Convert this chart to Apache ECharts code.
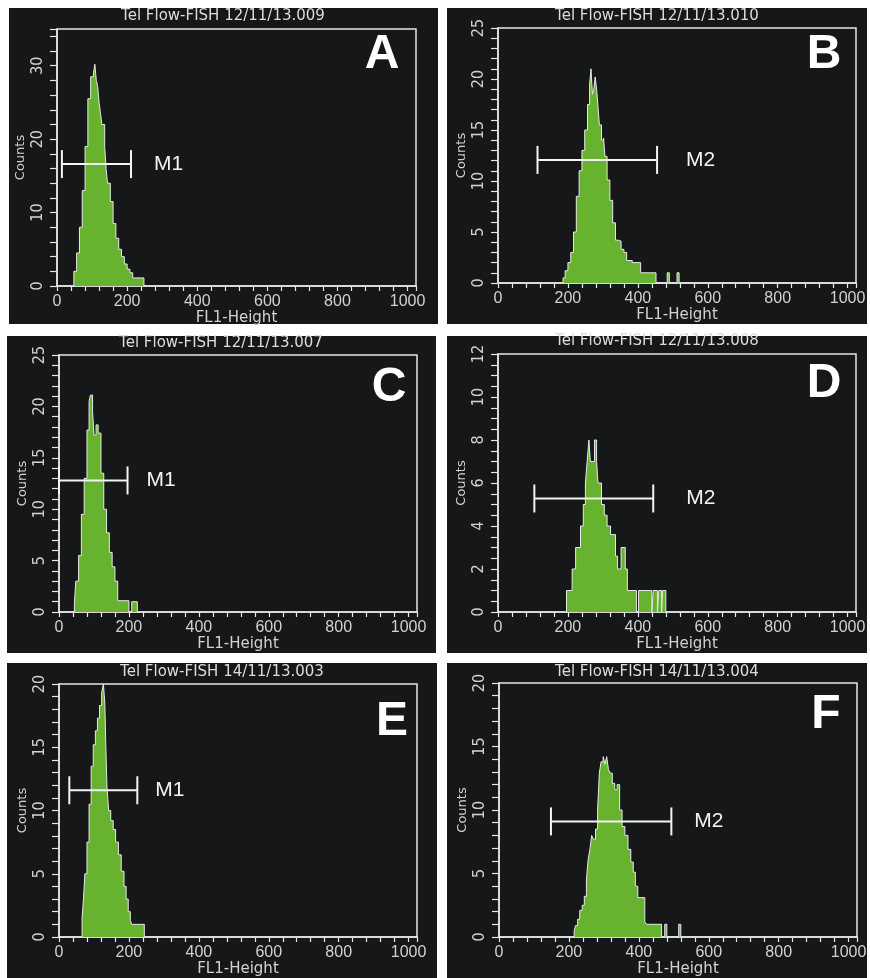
<!DOCTYPE html>
<html><head><meta charset="utf-8">
<script src="https://cdn.jsdelivr.net/npm/echarts@6/dist/echarts.min.js"></script>
<style>html,body{margin:0;padding:0;background:#fff}#c{width:870px;height:978px}</style>
</head><body><div id="c"></div>
<script>
// ---------------- DATA ----------------
const titles = ['Tel Flow-FISH 12/11/13.009','Tel Flow-FISH 12/11/13.010','Tel Flow-FISH 12/11/13.007','Tel Flow-FISH 12/11/13.008','Tel Flow-FISH 14/11/13.003','Tel Flow-FISH 14/11/13.004'];
const letters = ['A','B','C','D','E','F'];
const xName = 'FL1-Height';
const yName = 'Counts';

// histogram bin starts (FL1-Height) and counts
const binA = [48,56,64,72,80,88,96,104,108,112,116,120,124,128,136,140,144,152,160,168,176,184,192,200,208,216,248];
const cntA = [2,4.5,8,13,19,25.5,28.5,29,30.2,28,27.2,25,23.5,22,19,16,14,11.5,8.5,6.5,5,4,3,2.3,1.8,1.1,0];

const binB = [186,192,200,208,216,224,232,240,248,256,262,266,270,274,278,282,286,290,296,302,306,312,320,328,336,344,352,360,368,384,408,452,484,490,512,518];
const cntB = [0.5,1.2,2,3,5,8.5,11,13,15,17.5,19.5,21,18.5,19,20.2,19,17.3,15.5,14,14.2,12.4,10.1,8.1,5.9,4.2,4.1,3.3,3,2.2,2,1,0,1,0,1,0];

const binC = [44,48,56,64,72,80,86,90,96,100,106,112,120,128,136,144,152,160,168,200,208,224];
const cntC = [0.8,3,5.5,9.5,13,17.7,20.5,21.1,19.5,17.2,18.2,17.4,13.5,10,7.7,5.8,4.4,3,1.1,0,1,0];

const binD = [196,212,222,236,244,250,255,260,264,270,276,282,286,296,304,312,322,336,342,352,364,370,396,402,440,444,456,460,468,471,480];
const cntD = [1,2,3,4,5,6,7,8,7,7,8,7,6,5,4.5,4,3.6,2.6,2,3,2,1,0,1,0,1,0,1,0,1,0];

const binE = [66,70,74,80,86,92,98,104,110,116,122,127,131,134,137,142,148,155,162,170,178,186,192,198,204,208,244];
const cntE = [1.5,3,5,7.5,10.5,13.5,15.2,16.3,17.3,18.3,19.3,20,18.5,15,12,10,9.2,8.5,7.5,6.5,5.2,4,3,2,1.3,1,0];

const binF = [215,219,225,231,238,244,250,255,260,265,270,276,282,287,292,298,303,308,313,318,324,331,338,345,352,360,369,377,384,390,397,417,422,465,474,480,514,520];
const cntF = [0.5,0.9,1.4,2.1,2.5,3.2,4.5,6.1,6.9,8,7.7,8.5,10,12.9,13.8,14.2,13.6,14.2,13.2,12.9,12.1,11.6,12,10,8.7,8,6.9,5.9,5.1,4,3.1,1.2,1,0,1,0,1,0];

// region markers
const markerNames = ['M1','M2','M1','M2','M1','M2'];
const markerStart = [14,113,0,104,29.5,148.6];
const markerEnd   = [211,455,196,444,224,493];
const markerLevel = [16.6,12.07,12.8,5.28,11.6,9.1];

// axes
const yMax = [35,25,25,12,20,20];
const yTickStep = [2,1,1,0.5,1,1];
const yLabelStep = [10,5,5,2,5,5];
const xMax = 1024, xTickStep = 40, xLabelStep = 200;

// ---------------- LAYOUT / STYLE ----------------
const bins = [binA,binB,binC,binD,binE,binF];
const cnts = [cntA,cntB,cntC,cntD,cntE,cntF];
const panelRects = [[9,8,429,316],[447,8,420,316],[7,336,429,317],[447,336,420,317],[7,663,430,315],[447,663,420,315]];
const grids = [
  {left:57,top:29,width:359,height:257},
  {left:498,top:28,width:358,height:255},
  {left:59,top:355,width:358,height:257},
  {left:498,top:354,width:358,height:258},
  {left:59,top:684,width:358,height:256},
  {left:499,top:683,width:358,height:255}
];
const titlePos = [[223,16],[657,16],[221,343],[657,341],[222,672],[657,672]];
const letterPos = [[382,55],[824,55],[389,388],[824,384],[392,722],[826,715]];
const labelOffset = [23,29,19,33,18,23];

const FG = '#e6e6e6', LBL = '#d2d2d2', BG = '#161719', GREEN = '#67b22e';

const isMult = (v, s) => Math.abs(v / s - Math.round(v / s)) < 1e-6;

const option = {
  animation: false,
  backgroundColor: '#ffffff',
  grid: grids.map(g => Object.assign({show:true, borderColor:FG, borderWidth:1.5, backgroundColor:'transparent'}, g)),
  xAxis: grids.map((g,i) => ({
    gridIndex:i, type:'value', min:0, max:xMax, interval:xTickStep,
    axisLine:{show:true, onZero:false, lineStyle:{color:FG, width:1.5}},
    axisTick:{show:true, length:5, lineStyle:{color:FG, width:1.2}},
    axisLabel:{color:LBL, fontSize:16, fontFamily:'Liberation Sans, Arial', margin:8,
      formatter: v => isMult(v, xLabelStep) ? String(v) : ''},
    splitLine:{show:false},
    name:xName, nameLocation:'middle', nameGap:25,
    nameTextStyle:{color:LBL, fontSize:15, fontFamily:'DejaVu Sans'}
  })),
  yAxis: grids.map((g,i) => ({
    gridIndex:i, type:'value', min:0, max:yMax[i], interval:yTickStep[i],
    axisLine:{show:true, onZero:false, lineStyle:{color:FG, width:1.5}},
    axisTick:{show:true, length:7, lineStyle:{color:FG, width:1.2}},
    axisLabel:{color:LBL, fontSize:16, fontFamily:'Liberation Sans Narrow, DejaVu Sans Condensed, Arial', margin:11, rotate:90,
      formatter: v => isMult(v, yLabelStep[i]) ? String(v) : ''},
    splitLine:{show:false},
    name:yName, nameLocation:'middle', nameGap:30,
    nameTextStyle:{color:LBL, fontSize:13, fontFamily:'DejaVu Sans'}
  })),
  series: [],
  graphic: []
};

bins.forEach((b,i) => {
  const pts = [[b[0],0]].concat(b.map((x,k) => [x, cnts[i][k]]));
  option.series.push({
    type:'line', xAxisIndex:i, yAxisIndex:i, step:'end', symbol:'none',
    data:pts, lineStyle:{color:'#e8e8e8', width:1}, areaStyle:{color:GREEN, opacity:1},
    z:3, silent:true
  });
  option.series.push({
    type:'custom', xAxisIndex:i, yAxisIndex:i, clip:false, z:6, silent:true,
    data:[[markerStart[i], markerEnd[i], markerLevel[i]]],
    renderItem: (params, api) => {
      const p1 = api.coord([api.value(0), api.value(2)]);
      const p2 = api.coord([api.value(1), api.value(2)]);
      const h = 14, c = '#f4f4f4', lw = 2;
      return {type:'group', children:[
        {type:'line', shape:{x1:p1[0],y1:p1[1],x2:p2[0],y2:p2[1]}, style:{stroke:c, lineWidth:lw}},
        {type:'line', shape:{x1:p1[0],y1:p1[1]-h,x2:p1[0],y2:p1[1]+h}, style:{stroke:c, lineWidth:lw}},
        {type:'line', shape:{x1:p2[0],y1:p2[1]-h,x2:p2[0],y2:p2[1]+h}, style:{stroke:c, lineWidth:lw}},
        {type:'text', x:p2[0]+labelOffset[i], y:p2[1],
          style:{text:markerNames[i], fill:c, font:'21px "Liberation Sans", Arial',
            align:'left', verticalAlign:'middle', textAlign:'left', textVerticalAlign:'middle'}}
      ]};
    }
  });
  const r = panelRects[i];
  option.graphic.push({type:'rect', z:-100, silent:true, shape:{x:r[0], y:r[1], width:r[2], height:r[3]}, style:{fill:BG}});
  option.graphic.push({type:'text', z:100, silent:true, x:titlePos[i][0], y:titlePos[i][1],
    style:{text:titles[i], fill:'#dcdcdc', font:'15px "DejaVu Sans"', align:'center', verticalAlign:'middle', textAlign:'center', textVerticalAlign:'middle'}});
  option.graphic.push({type:'text', z:100, silent:true, x:letterPos[i][0], y:letterPos[i][1],
    style:{text:letters[i], fill:'#ffffff', font:'bold 48px "Liberation Sans", Arial', align:'center', verticalAlign:'middle', textAlign:'center', textVerticalAlign:'middle'}});
});

const chart = echarts.init(document.getElementById('c'), null, {renderer:'canvas'});
chart.setOption(option);
</script>
</body></html>
